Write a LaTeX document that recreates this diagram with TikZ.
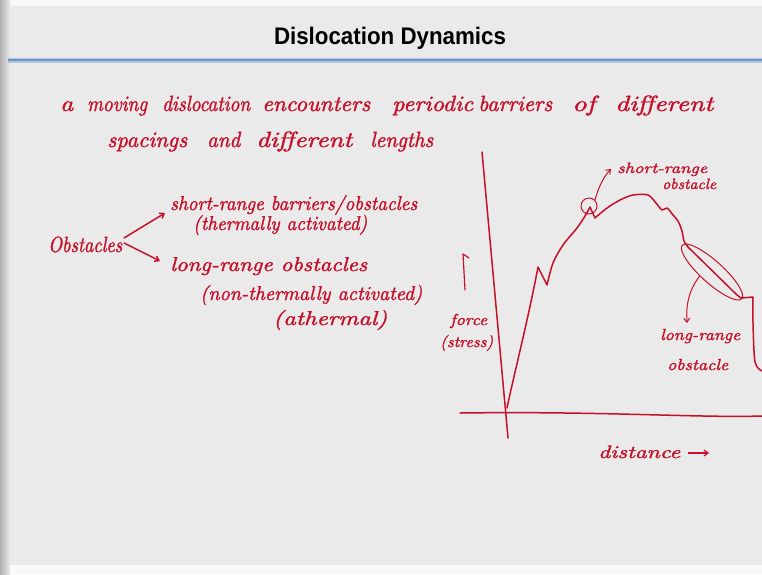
\documentclass[tikz,border=0pt]{standalone}
\usepackage{fontspec}
\usepackage{graphicx}
\newfontfamily\titlefont{Liberation Sans}
\newfontfamily\handfont{lmroman10-italic.otf}[FakeBold=1.6]
\usetikzlibrary{arrows.meta,shapes.geometric}
\definecolor{ink}{RGB}{198,16,42}
\definecolor{paper}{RGB}{235,234,234}
\definecolor{rule}{RGB}{112,150,198}
\newcommand\hw[3][22]{\resizebox{#2pt}{\height}{\fontsize{#1}{#1}\selectfont\handfont #3}}
\tikzset{
  word/.style={anchor=base west, inner sep=0pt, text=ink},
  inkline/.style={draw=ink, line width=1.5pt, line cap=round, line join=round},
  inkarrow/.style={inkline, -{Straight Barb[length=4pt,width=6pt]}},
}
\begin{document}
\begin{tikzpicture}[x=1pt,y=-1pt]
\useasboundingbox (0,0) rectangle (762,574);
% background
\fill[paper] (0,0) rectangle (762,574);
\fill[white!60!paper] (0,0) rectangle (762,6);
\fill[white!70!paper] (0,565) rectangle (762,574);
\shade[left color=black!30, right color=paper] (0,0) rectangle (10,574);
\fill[rule!55] (8,57.5) rectangle (762,62.5);
\fill[rule] (8,59) rectangle (762,61);
% title
\node[inner sep=0pt] (title) at (390,38) {\resizebox{232pt}{\height}{\titlefont\fontsize{24}{28}\selectfont\bfseries Dislocation Dynamics}};
% line 1
\node[word] (w1) at (60,111) {\hw{13}{a}};
\node[word] (w2) at (87,111) {\hw{60}{moving}};
\node[word] (w3) at (162,111) {\hw{88}{dislocation}};
\node[word] (w4) at (262,111) {\hw{108}{encounters}};
\node[word] (w5) at (392,111) {\hw{81}{periodic}};
\node[word] (w6) at (478,111) {\hw{74}{barriers}};
\node[word] (w7) at (572,111) {\hw{23}{of}};
\node[word] (w8) at (615,111) {\hw{98}{different}};
% line 2
\node[word] (v1) at (107,147) {\hw{80}{spacings}};
\node[word] (v2) at (207,147) {\hw{33}{and}};
\node[word] (v3) at (256,147) {\hw{96}{different}};
\node[word] (v4) at (370,147) {\hw{63}{lengths}};
% obstacles classification
\node[word] (obs) at (48,252) {\hw{74}{Obstacles}};
\node[word] (srb) at (170,210) {\hw[20]{247}{short-range barriers/obstacles}};
\node[word] (ta) at (193,230) {\hw[20]{174}{(thermally activated)}};
\node[word] (lro) at (170,271) {\hw[20]{197}{long-range obstacles}};
\node[word] (nta) at (200,300) {\hw[20]{222}{(non-thermally activated)}};
\node[word] (ath) at (273,325) {\hw[20]{114}{(athermal)}};
\coordinate (obsA) at (124,238);
\coordinate (obsB) at (124,243);
\coordinate (srbIn) at (165,213);
\coordinate (lroIn) at (160,261);
\draw[inkarrow] (obsA) -- (srbIn);
\draw[inkarrow] (obsB) -- (lroIn);
% axes
\coordinate (ytop) at (482,152);
\coordinate (ybot) at (508,438);
\coordinate (xleft) at (460,413);
\coordinate (xright) at (762,416);
\draw[inkline] (ytop) -- (ybot);
\draw[inkline] (xleft) .. controls (600,411) and (700,418) .. (xright);
% curve
\draw[inkline] (507,408) .. controls (515,370) and (528,320) .. (538,267) -- (547,285)
  plot[smooth, tension=0.55] coordinates {(547,285) (553,263) (563,245) (577,228) (585,216) (590,207)}
  -- (595,218)
  plot[smooth, tension=0.5] coordinates {(595,218) (607,208) (620,200) (633,195) (648,195) (656,203) (662,210) (667,208) (673,215) (678,221) (682,231) (684,241) (688,247)}
  -- (737,295) -- (741,298) -- (753,297)
  plot[smooth, tension=0.5] coordinates {(753,297) (753,323) (755,362) (762,371)};
% short-range obstacle marker
\node[inkline, draw, circle, minimum size=16pt, inner sep=0pt, line width=1pt] (c1) at (589,206) {};
\node[word] (sro1) at (617,173) {\hw[15]{90}{short-range}};
\node[word] (sro2) at (662,189) {\hw[15]{54}{obstacle}};
\coordinate (sroIn) at (611,169);
\draw[inkarrow, line width=1pt] (c1.north east) .. controls (598,188) and (604,176) .. (sroIn);
% long-range obstacle marker
\node[inkline, draw, ellipse, rotate=-42, minimum width=80pt, minimum height=22pt, inner sep=0pt, line width=1pt] (e1) at (712,272) {};
\node[word] (lr1) at (660,340) {\hw[16]{80}{long-range}};
\node[word] (lr2) at (667,370) {\hw[16]{61}{obstacle}};
\coordinate (lrIn) at (687,323);
\draw[inkarrow, line width=1pt] (e1.-120) .. controls (688,292) and (686,305) .. (lrIn);
% force label
\node[word] (f1) at (450,325) {\hw[16]{37}{force}};
\node[word] (f2) at (440,347) {\hw[16]{53}{(stress)}};
\coordinate (fa) at (465,290);
\coordinate (fb) at (463,254);
\draw[inkline, line width=1.2pt] (fa) -- (fb) -- (469,258);
% distance label
\node[word] (d1) at (598,458) {\hw[18]{82}{distance}};
\coordinate (dEnd) at (709,453);
\draw[inkarrow, line width=1.2pt] ([xshift=8pt,yshift=5pt]d1.base east) -- (dEnd);
\end{tikzpicture}
\end{document}
